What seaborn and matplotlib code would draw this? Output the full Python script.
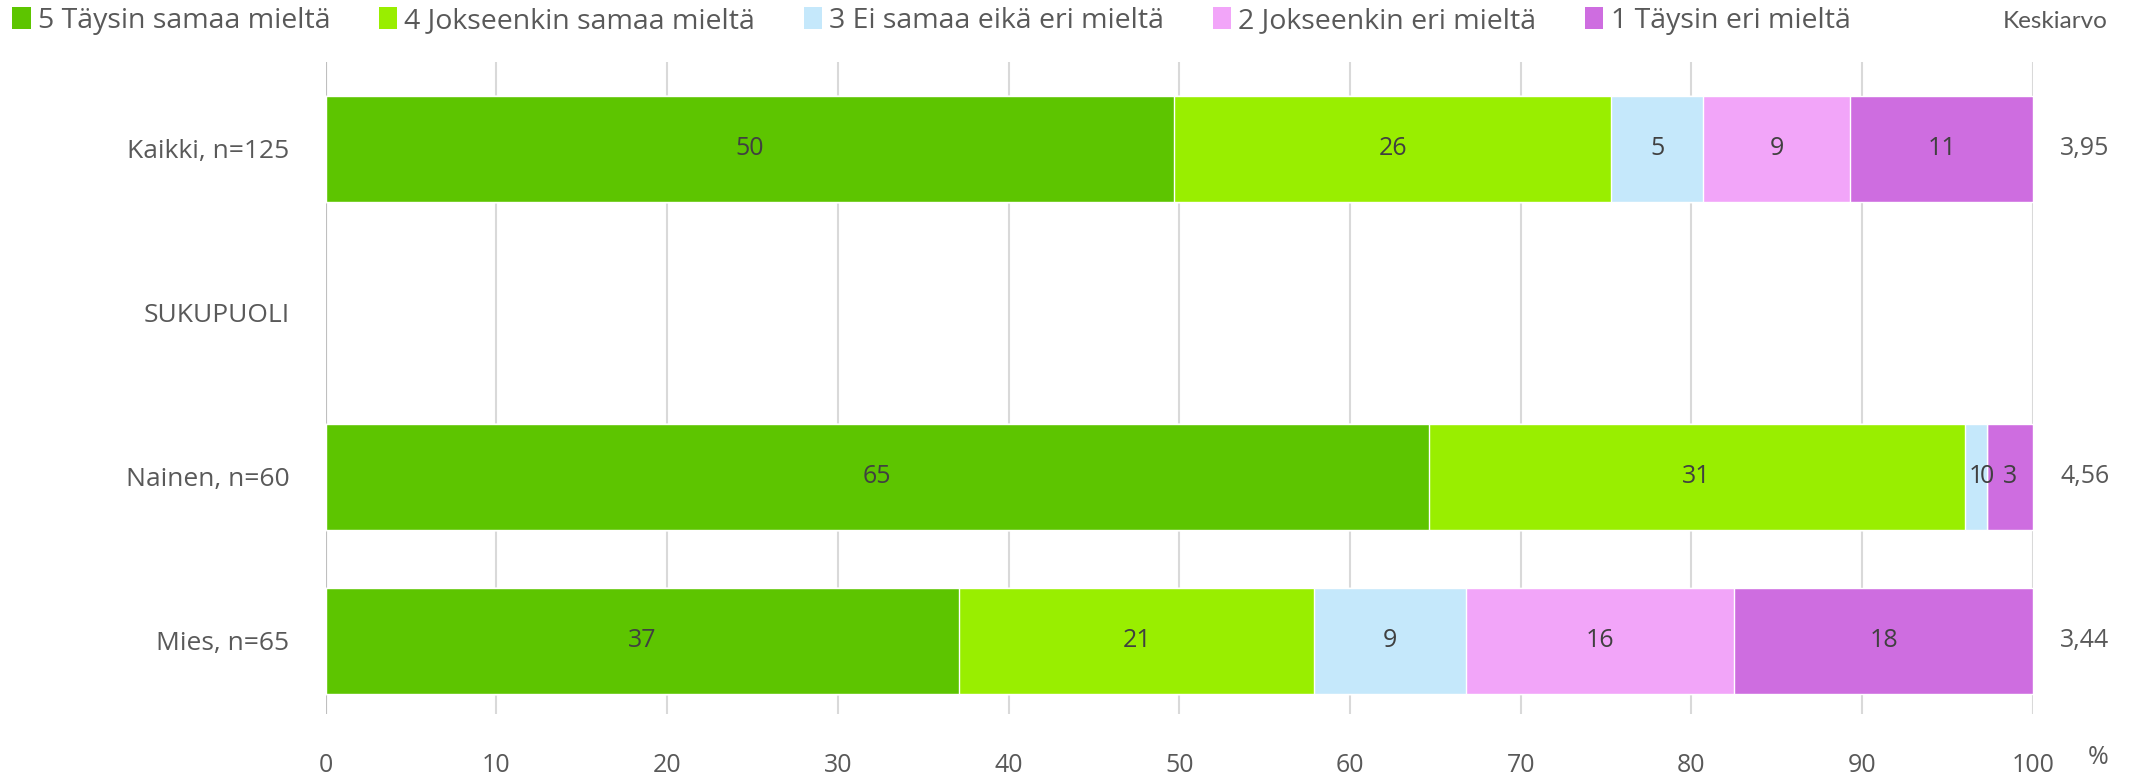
import numpy as np
import pandas as pd
import seaborn as sns
import matplotlib.pyplot as plt
from matplotlib.patches import Patch

# data
rows = ["Kaikki, n=125", "SUKUPUOLI", "Nainen, n=60", "Mies, n=65"]
groups = ["Kaikki, n=125", "Nainen, n=60", "Mies, n=65"]
levels = ["5 Täysin samaa mieltä", "4 Jokseenkin samaa mieltä",
          "3 Ei samaa eikä eri mieltä", "2 Jokseenkin eri mieltä",
          "1 Täysin eri mieltä"]
v5 = [49.7, 64.6, 37.1]
v4 = [25.6, 31.4, 20.8]
v3 = [5.4, 1.3, 8.9]
v2 = [8.6, 0.0, 15.7]
v1 = [10.7, 2.7, 17.5]
means = [3.95, 4.56, 3.44]

colors = ["#5dc500", "#99ee00", "#c5e8fb", "#f2a5f9", "#ce6de0"]

sns.set_theme(style="white")
plt.rcParams['font.family'] = ['Open Sans', 'DejaVu Sans']
txt = "#595959"
fs = 18

fig = plt.figure(figsize=(21.54, 7.75), dpi=100)
ax = fig.add_axes([0.1512, 0.079, 0.7926, 0.841])

vals = np.array([v5, v4, v3, v2, v1])
cum = vals.cumsum(axis=0)

# draw cumulative bars, widest first, so each level sits on top of the next
for i in range(4, -1, -1):
    df = pd.DataFrame({"grp": groups, "x": cum[i]})
    sns.barplot(data=df, x="x", y="grp", order=rows, orient="h",
                color=colors[i], saturation=1, width=0.645, ax=ax, zorder=3)

# segment labels
for j, g in enumerate(groups):
    yy = rows.index(g)
    for i in range(5):
        left = cum[i][j] - vals[i][j]
        ax.text(left + vals[i][j] / 2, yy, f"{vals[i][j]:.0f}",
                ha="center", va="center", fontsize=fs, color="#404040", zorder=4)
    ax.text(101.6, yy, f"{means[j]:.2f}".replace(".", ","), ha="left",
            va="center", fontsize=fs, color=txt)

ax.set_xlim(0, 100)
ax.set_ylim(3.445, -0.53)
ax.set_xticks(range(0, 101, 10))
ax.grid(axis="x", color="#d9d9d9", linewidth=1.5, zorder=0)
ax.grid(axis="y", visible=False)
for s in ax.spines.values():
    s.set_visible(False)
ax.axvline(0, color="#bfbfbf", linewidth=1.5, zorder=1)
ax.tick_params(axis="x", length=0, pad=28, labelsize=fs, labelcolor=txt)
ax.tick_params(axis="y", length=0, pad=26, labelsize=19, labelcolor=txt)
ax.set_xlabel("")
ax.set_ylabel("")
fig.text(2088 / 2154, 1 - 758 / 775, "%", ha="left", va="center",
         fontsize=fs, color=txt)

handles = [Patch(facecolor=c, edgecolor="none") for c in colors]
fig.legend(handles, levels, loc="center left", bbox_to_anchor=(0.003, 1 - 21 / 775),
           ncol=5, frameon=False, fontsize=20.5, labelcolor=txt,
           handlelength=0.65, handleheight=0.8, handletextpad=0.25,
           columnspacing=1.7, borderaxespad=0, borderpad=0.2)
fig.text(2055 / 2154, 1 - 21 / 775, "Keskiarvo", ha="center", va="center",
         fontsize=17.5, color=txt, family=["Lato", "DejaVu Sans"])

fig.savefig("out.png", dpi=100, facecolor="white")
